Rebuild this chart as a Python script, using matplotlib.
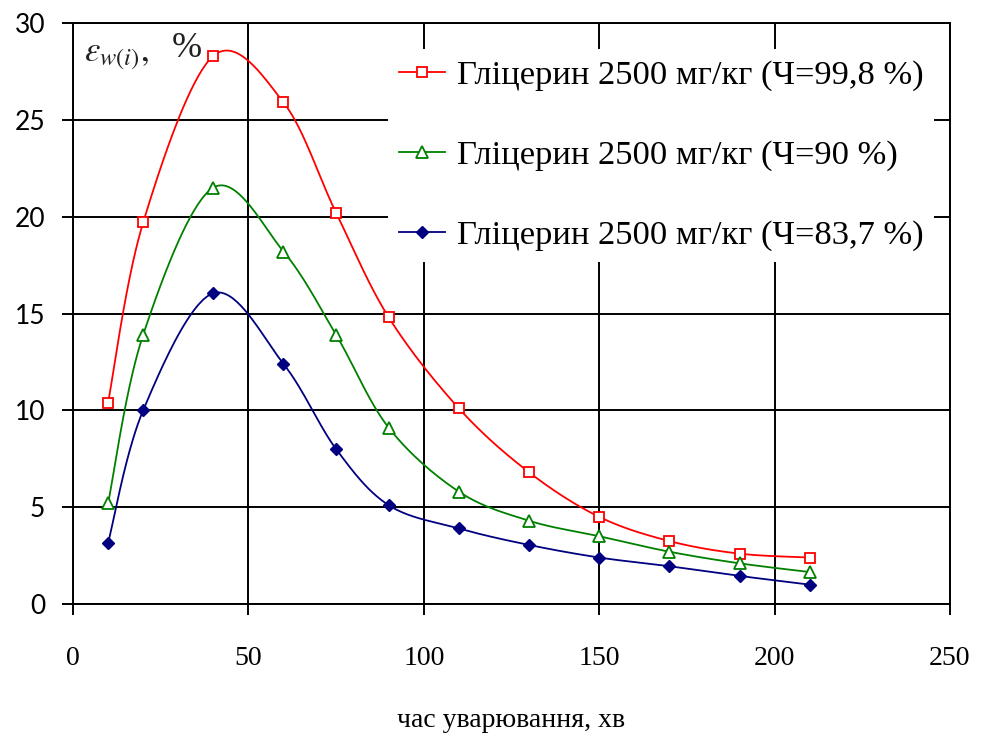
import numpy as np
import matplotlib
matplotlib.use("Agg")
import matplotlib.pyplot as plt
from matplotlib.lines import Line2D

time_min = [10, 20, 40, 60, 75, 90, 110, 130, 150, 170, 190, 210]
red_998 = [10.4, 19.7, 28.3, 25.9, 20.2, 14.8, 10.1, 6.8, 4.5, 3.25, 2.6, 2.4]
green_90 = [5.2, 13.9, 21.5, 18.2, 13.9, 9.1, 5.8, 4.3, 3.5, 2.7, 2.1, 1.65]
blue_837 = [3.15, 10.0, 16.05, 12.4, 8.0, 5.1, 3.9, 3.05, 2.4, 1.95, 1.45, 1.0]
labels = ["Гліцерин 2500 мг/кг (Ч=99,8 %)",
          "Гліцерин 2500 мг/кг (Ч=90 %)",
          "Гліцерин 2500 мг/кг (Ч=83,7 %)"]
x_ticks = [0, 50, 100, 150, 200, 250]
y_ticks = [0, 5, 10, 15, 20, 25, 30]
x_label = "час уварювання, хв"

fig = plt.figure(figsize=(9.81, 7.36), dpi=100)
ax = fig.add_axes([73/981, 1-604/736, (950-73)/981, (604-23)/736])
ax.set_xlim(0, 250)
ax.set_ylim(0, 30)
ax.set_xticks(x_ticks)
ax.set_yticks(y_ticks)
ax.grid(True, color="black", lw=1.4)
ax.set_axisbelow(True)
for s in ax.spines.values():
    s.set_linewidth(1.4)
    s.set_color("black")
ax.tick_params(direction="out", length=8, width=1.4, colors="black")
ax.tick_params(axis="y", pad=12)
ax.tick_params(axis="x", pad=22)
for t in ax.get_yticklabels():
    t.set_fontfamily("Lato"); t.set_fontsize(19)
for t in ax.get_xticklabels():
    t.set_fontfamily("Liberation Serif"); t.set_fontsize(20)
ax.set_xlabel(x_label, fontfamily="Liberation Serif", fontsize=20, labelpad=27)


def excel_smooth(xs, ys, n=40):
    T = ax.transData
    P = T.transform(np.column_stack([xs, ys]))
    out = []
    m = len(P)
    for i in range(m - 1):
        p0 = P[i - 1] if i > 0 else P[i]
        p1 = P[i]
        p2 = P[i + 1]
        p3 = P[i + 2] if i + 2 < m else P[i + 1]
        c1 = p1 + (p2 - p0) / 6.0
        c2 = p2 - (p3 - p1) / 6.0
        t = np.linspace(0, 1, n)[:, None]
        seg = ((1 - t) ** 3) * p1 + 3 * ((1 - t) ** 2) * t * c1 + 3 * (1 - t) * t * t * c2 + t ** 3 * p2
        out.append(seg if i == 0 else seg[1:])
    pts = T.inverted().transform(np.vstack(out))
    return pts[:, 0], pts[:, 1]


series = [
    (red_998, "#FF0000", dict(marker="s", ms=6.5, mfc="white", mec="#FF0000", mew=1.3)),
    (green_90, "#008000", dict(marker="^", ms=8, mfc="white", mec="#008000", mew=1.3)),
    (blue_837, "#000080", dict(marker="D", ms=6, mfc="#000080", mec="#000080", mew=1.0)),
]
handles = []
for ys, col, mk in series:
    sx, sy = excel_smooth(time_min, ys)
    ax.plot(sx, sy, color=col, lw=1.3, zorder=3)
    ax.plot(time_min, ys, ls="none", zorder=4, **mk)
    handles.append(Line2D([], [], color=col, lw=1.3, **mk))

leg = ax.legend(handles, labels, loc="upper right", bbox_to_anchor=(0.982, 0.955),
                prop={"family": "Liberation Serif", "size": 24.8},
                frameon=True, fancybox=False, framealpha=1.0, edgecolor="white",
                handlelength=1.35, handletextpad=0.35, labelspacing=1.42,
                borderpad=0.3, borderaxespad=0)
leg.get_frame().set_linewidth(0)

ax.text(0.012, 0.975, r"$\varepsilon_{w(i)},$", transform=ax.transAxes, ha="left", va="top",
        fontsize=25, math_fontfamily="stix", color="#222222")
ax.text(0.113, 0.985, "%", transform=ax.transAxes, ha="left", va="top",
        fontsize=26, fontfamily="Liberation Serif", color="#222222")

fig.savefig("out.png", dpi=100)
